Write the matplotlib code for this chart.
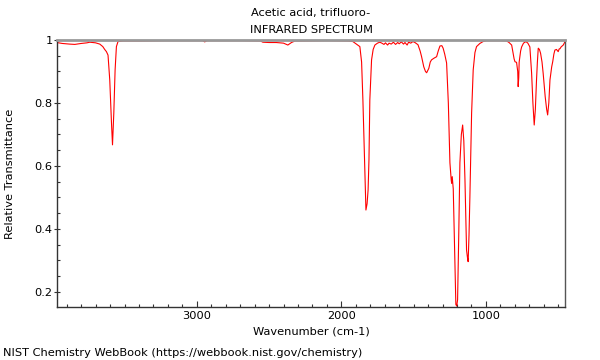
import matplotlib
matplotlib.use("Agg")
import matplotlib.pyplot as plt
from matplotlib.ticker import MultipleLocator, FixedLocator, FuncFormatter

# spectrum (wavenumber cm-1, relative transmittance)
wavenumber = [
    3969, 3930, 3880, 3844, 3800, 3760, 3740, 3700, 3671, 3650,
    3637, 3625, 3614, 3602, 3590, 3583, 3574, 3565, 3556, 3545,
    3512, 3400, 3200, 3060, 2960, 2945, 2930, 2700, 2560, 2543,
    2500, 2450, 2400, 2370, 2345, 2320, 2287, 2100, 1950, 1920,
    1890, 1872, 1860, 1851, 1840, 1830, 1822, 1815, 1809, 1803,
    1791, 1780, 1768, 1750, 1734, 1720, 1705, 1695, 1680, 1670,
    1655, 1640, 1625, 1610, 1600, 1585, 1570, 1560, 1545, 1535,
    1520, 1505, 1491, 1470, 1455, 1445, 1430, 1418, 1410, 1395,
    1385, 1376, 1360, 1341, 1330, 1318, 1305, 1296, 1285, 1272,
    1260, 1249, 1240, 1237, 1233, 1226, 1215, 1208, 1202, 1196,
    1188, 1180, 1170, 1161, 1153, 1145, 1134, 1128, 1123, 1117,
    1111, 1099, 1088, 1076, 1065, 1042, 1020, 995, 950, 900,
    857, 840, 822, 805, 799, 788, 780, 777, 773, 770,
    760, 753, 740, 723, 710, 696, 684, 675, 666, 658,
    650, 644, 638, 630, 622, 612, 604, 590, 580, 573,
    565, 557, 545, 538, 530, 523, 512, 500, 493, 488,
    480, 465, 458, 450,
]
transmittance = [
    0.992, 0.989, 0.987, 0.986, 0.989, 0.991, 0.993, 0.991, 0.987, 0.979,
    0.970, 0.963, 0.952, 0.873, 0.736, 0.667, 0.768, 0.905, 0.979, 0.995,
    0.997, 0.997, 0.998, 0.998, 0.998, 0.994, 0.998, 0.998, 0.997, 0.993,
    0.992, 0.992, 0.990, 0.984, 0.992, 0.997, 0.997, 0.998, 0.997, 0.995,
    0.985, 0.979, 0.930, 0.810, 0.620, 0.460, 0.480, 0.524, 0.620, 0.810,
    0.937, 0.970, 0.984, 0.990, 0.993, 0.990, 0.986, 0.991, 0.984, 0.990,
    0.987, 0.993, 0.986, 0.992, 0.988, 0.994, 0.987, 0.992, 0.984, 0.993,
    0.990, 0.995, 0.992, 0.985, 0.965, 0.947, 0.915, 0.900, 0.896, 0.910,
    0.930, 0.937, 0.942, 0.947, 0.965, 0.981, 0.982, 0.974, 0.955, 0.927,
    0.800, 0.610, 0.555, 0.545, 0.566, 0.527, 0.300, 0.160, 0.155, 0.175,
    0.380, 0.610, 0.700, 0.730, 0.680, 0.556, 0.333, 0.310, 0.296, 0.380,
    0.500, 0.768, 0.905, 0.960, 0.979, 0.989, 0.995, 0.998, 0.998, 0.998,
    0.997, 0.992, 0.984, 0.940, 0.931, 0.929, 0.900, 0.852, 0.880, 0.930,
    0.965, 0.978, 0.990, 0.995, 0.990, 0.978, 0.895, 0.800, 0.730, 0.780,
    0.873, 0.930, 0.974, 0.970, 0.958, 0.930, 0.894, 0.820, 0.780, 0.762,
    0.800, 0.873, 0.915, 0.931, 0.955, 0.968, 0.970, 0.963, 0.972, 0.972,
    0.978, 0.984, 0.990, 0.998,
]

title_lines = ["Acetic acid, trifluoro-", "INFRARED SPECTRUM"]
x_ticks = [3000, 2000, 1000]
y_ticks = [0.2, 0.4, 0.6, 0.8, 1.0]
fs = 8.2

fig = plt.figure(figsize=(6, 3.6), dpi=100)
ax = fig.add_axes([56.7 / 600, 1 - 307 / 360, (565 - 56.7) / 600, (307 - 40) / 360])

ax.plot(wavenumber, transmittance, color="red", lw=0.8)

ax.set_xlim(3969, 453)
ax.set_ylim(0.152, 1.0)

ax.xaxis.set_major_locator(FixedLocator(x_ticks))
ax.xaxis.set_minor_locator(MultipleLocator(100))
ax.yaxis.set_major_locator(FixedLocator(y_ticks))
ax.yaxis.set_minor_locator(MultipleLocator(0.05))
ax.yaxis.set_major_formatter(FuncFormatter(lambda v, p: "%g" % round(v, 2)))

ax.tick_params(axis="x", which="major", direction="in", length=4, width=0.8,
               color="#333333", labelsize=fs, pad=3)
ax.tick_params(axis="x", which="minor", direction="in", length=2.5, width=0.8,
               color="#333333")
ax.tick_params(axis="y", which="major", direction="inout", length=4, width=0.8,
               color="#333333", labelsize=fs, pad=1)
ax.tick_params(axis="y", which="minor", direction="in", length=2.5, width=0.8,
               color="#333333")

for side in ["left", "bottom"]:
    ax.spines[side].set_color("#333333")
    ax.spines[side].set_linewidth(1)
ax.spines["right"].set_color("#555555")
ax.spines["right"].set_linewidth(1)
ax.spines["top"].set_color("#999999")
ax.spines["top"].set_linewidth(2)

fig.text(311 / 600, 1 - 13 / 360, title_lines[0], ha="center", va="center", fontsize=fs)
fig.text(311 / 600, 1 - 30 / 360, title_lines[1], ha="center", va="center", fontsize=fs)
fig.text(311 / 600, 1 - 332 / 360, "Wavenumber (cm-1)", ha="center", va="center", fontsize=fs)
fig.text(10 / 600, 1 - 174 / 360, "Relative Transmittance", ha="center", va="center",
         rotation=90, fontsize=fs)
fig.text(3 / 600, 1 - 353 / 360, "NIST Chemistry WebBook (https://webbook.nist.gov/chemistry)",
         ha="left", va="center", fontsize=fs)

fig.savefig("out.png", dpi=100)
